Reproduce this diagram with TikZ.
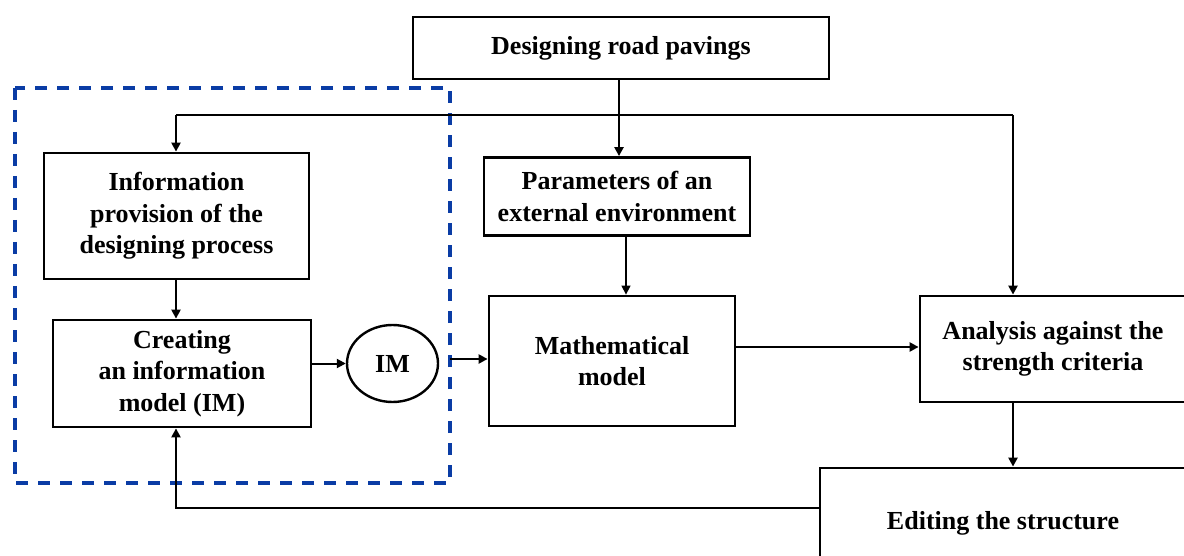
\documentclass[tikz,border=0pt]{standalone}
\usepackage{fontspec}
\setmainfont{Liberation Serif}
\usetikzlibrary{arrows.meta,shapes.geometric}
\definecolor{frameblue}{RGB}{10,60,165}
\tikzset{
  box/.style={draw, line width=2.8pt, inner sep=0pt, align=center,
    font=\fontsize{26}{31.5}\selectfont\bfseries},
  conn/.style={line width=2.8pt, -{Triangle[length=9pt,width=9pt]}},
  thinconn/.style={line width=1.4pt, -{Triangle[length=9pt,width=9pt]}},
  plain/.style={line width=2.8pt},
  frame/.style={draw=frameblue, line width=3.2pt, dash pattern=on 12pt off 10pt}
}
\begin{document}
\begin{tikzpicture}[x=1pt,y=-1pt]
\useasboundingbox (0,0) rectangle (1184,556);
% dashed frame
\draw[frame] (15,88) rectangle (450,483);
% boxes
\node[box, minimum width=416pt, minimum height=62pt] (top) at (621,48) {Designing road pavings};
\node[box, minimum width=265pt, minimum height=126pt] (info) at (176.5,216) {Information\\provision of the\\designing process};
\node[box, minimum width=258pt, minimum height=107pt] (create) at (182,373.5) {Creating\\an information\\model (IM)};
\node[draw, ellipse, line width=2.4pt, minimum width=91pt, minimum height=77pt, inner sep=0pt,
  font=\fontsize{26}{31.5}\selectfont\bfseries] (im) at (392.5,363.5) {IM};
\node[box, minimum width=266pt, minimum height=78pt] (param) at (617,196.5) {Parameters of an\\external environment};
\node[box, minimum width=246pt, minimum height=130pt] (math) at (612,361) {Mathematical\\model};
\node[box, minimum width=266pt, minimum height=106pt] (anal) at (1053,349) {Analysis against the\\strength criteria};
\node[box, minimum width=366pt, minimum height=110pt] (edit) at (1003,523) {Editing the structure};
% coordinates
\coordinate (split) at (619,115);
\coordinate (leftc) at (176,115);
\coordinate (rightc) at (1013,115);
\coordinate (fr) at (450,359);
\coordinate (back) at (176,508);
\coordinate (pm) at (626,300);
\coordinate (ma) at (800,347);
% connectors
\draw[conn] (top.south -| split) -- (param.north -| split);
\draw[plain] (leftc) -- (rightc);
\draw[conn] (leftc) -- (info.north -| leftc);
\draw[conn] (rightc) -- (anal.north -| rightc);
\draw[conn] (info.south -| leftc) -- (create.north -| leftc);
\draw[thinconn, line width=2pt] (create.east |- im.west) -- (im.west);
\draw[conn] (fr) -- (math.west |- fr);
\draw[thinconn] (param.south -| pm) -- (math.north -| pm);
\draw[conn] (math.east |- ma) -- (anal.west |- ma);
\draw[conn] (anal.south -| rightc) -- (edit.north -| rightc);
\draw[conn] (edit.west |- back) -- (back) -- (create.south -| back);
\end{tikzpicture}
\end{document}
